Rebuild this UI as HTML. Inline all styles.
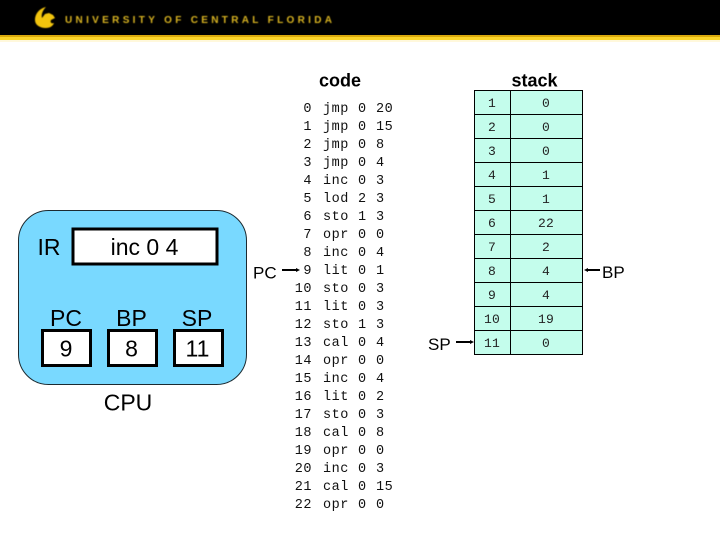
<!DOCTYPE html>
<html><head><meta charset="utf-8"><style>
html,body{margin:0;padding:0;background:#fff}
svg{display:block}
.a{font-family:"Liberation Sans",sans-serif;fill:#000}
.m{font-family:"Liberation Mono",monospace;font-size:13.5px;letter-spacing:.5px;fill:#111}
.s{font-family:"Liberation Mono",monospace;font-size:13px;letter-spacing:.2px;fill:#222;text-anchor:middle}
</style></head><body>
<svg width="720" height="540" viewBox="0 0 720 540" xmlns="http://www.w3.org/2000/svg">
<defs><filter id="b" x="-5%" y="-20%" width="110%" height="140%"><feGaussianBlur stdDeviation="0.45"/></filter></defs>
<rect width="720" height="36" fill="#000"/>
<rect y="35" width="720" height="2" fill="#d9a90c"/>
<rect y="37" width="720" height="3" fill="#fbd52a"/>
<rect y="40" width="720" height="2" fill="#fff8dc"/>
<g filter="url(#b)">
<path d="M46 7 C38 9 35 15 35 20 C35 25 40 28 46 28 C50 28 53 26 54 23 C51 24 50 22 51 20 L55 18 L53 15 L49 13 L45 14 L42 18 C41 14 43 10 46 7Z" fill="#f2c40f"/>
<text class="a" x="65" y="23" font-size="10" font-weight="bold" style="fill:#d9b424" textLength="267" lengthAdjust="spacing">UNIVERSITY OF CENTRAL FLORIDA</text>
</g>

<rect x="18.500" y="210.500" width="228" height="174" rx="30" fill="#79d9ff" stroke="#1c2a30" stroke-width="1"/>
<rect x="73" y="229" width="144" height="35" fill="#fff" stroke="#000" stroke-width="3"/>
<rect x="42.500" y="330.500" width="48" height="35" fill="#fff" stroke="#000" stroke-width="3"/>
<rect x="108.500" y="330.500" width="48" height="35" fill="#fff" stroke="#000" stroke-width="3"/>
<rect x="174.500" y="330.500" width="48" height="35" fill="#fff" stroke="#000" stroke-width="3"/>
<g class="a" font-size="23" text-anchor="middle">
<text x="49" y="255">IR</text>
<text x="144.500" y="255">inc 0 4</text>
<text x="66" y="326">PC</text>
<text x="131.500" y="326">BP</text>
<text x="197" y="326">SP</text>
<text x="66" y="356.500">9</text>
<text x="131.500" y="356.500">8</text>
<text x="197.500" y="356.500">11</text>
<text x="128" y="410.500">CPU</text>
</g>

<g class="a" font-size="17">
<text x="253" y="278.500">PC</text>
<text x="428" y="350">SP</text>
<text x="602" y="278">BP</text>
</g>
<g stroke="#000" stroke-width="2" fill="#000">
<line x1="282" y1="270" x2="298" y2="270"/><path d="M296 268l4 2-4 2z" stroke="none"/>
<line x1="456" y1="342" x2="472" y2="342"/><path d="M470 340l4 2-4 2z" stroke="none"/>
<line x1="586" y1="270" x2="600" y2="270"/><path d="M588 268l-4 2 4 2z" stroke="none"/>
</g>

<text class="a" x="340" y="86.500" font-size="18" font-weight="bold" text-anchor="middle">code</text>
<text class="a" x="534.500" y="86.500" font-size="18" font-weight="bold" text-anchor="middle">stack</text>

<g class="m">
<g text-anchor="end">
<text x="312" y="112">0</text><text x="312" y="130">1</text><text x="312" y="148">2</text><text x="312" y="166">3</text><text x="312" y="184">4</text><text x="312" y="202">5</text><text x="312" y="220">6</text><text x="312" y="238">7</text><text x="312" y="256">8</text><text x="312" y="274">9</text><text x="312" y="292">10</text><text x="312" y="310">11</text><text x="312" y="328">12</text><text x="312" y="346">13</text><text x="312" y="364">14</text><text x="312" y="382">15</text><text x="312" y="400">16</text><text x="312" y="418">17</text><text x="312" y="436">18</text><text x="312" y="454">19</text><text x="312" y="472">20</text><text x="312" y="490">21</text><text x="312" y="508">22</text>
</g>
<g>
<text x="323" y="112">jmp</text><text x="358" y="112">0</text><text x="376" y="112">20</text>
<text x="323" y="130">jmp</text><text x="358" y="130">0</text><text x="376" y="130">15</text>
<text x="323" y="148">jmp</text><text x="358" y="148">0</text><text x="376" y="148">8</text>
<text x="323" y="166">jmp</text><text x="358" y="166">0</text><text x="376" y="166">4</text>
<text x="323" y="184">inc</text><text x="358" y="184">0</text><text x="376" y="184">3</text>
<text x="323" y="202">lod</text><text x="358" y="202">2</text><text x="376" y="202">3</text>
<text x="323" y="220">sto</text><text x="358" y="220">1</text><text x="376" y="220">3</text>
<text x="323" y="238">opr</text><text x="358" y="238">0</text><text x="376" y="238">0</text>
<text x="323" y="256">inc</text><text x="358" y="256">0</text><text x="376" y="256">4</text>
<text x="323" y="274">lit</text><text x="358" y="274">0</text><text x="376" y="274">1</text>
<text x="323" y="292">sto</text><text x="358" y="292">0</text><text x="376" y="292">3</text>
<text x="323" y="310">lit</text><text x="358" y="310">0</text><text x="376" y="310">3</text>
<text x="323" y="328">sto</text><text x="358" y="328">1</text><text x="376" y="328">3</text>
<text x="323" y="346">cal</text><text x="358" y="346">0</text><text x="376" y="346">4</text>
<text x="323" y="364">opr</text><text x="358" y="364">0</text><text x="376" y="364">0</text>
<text x="323" y="382">inc</text><text x="358" y="382">0</text><text x="376" y="382">4</text>
<text x="323" y="400">lit</text><text x="358" y="400">0</text><text x="376" y="400">2</text>
<text x="323" y="418">sto</text><text x="358" y="418">0</text><text x="376" y="418">3</text>
<text x="323" y="436">cal</text><text x="358" y="436">0</text><text x="376" y="436">8</text>
<text x="323" y="454">opr</text><text x="358" y="454">0</text><text x="376" y="454">0</text>
<text x="323" y="472">inc</text><text x="358" y="472">0</text><text x="376" y="472">3</text>
<text x="323" y="490">cal</text><text x="358" y="490">0</text><text x="376" y="490">15</text>
<text x="323" y="508">opr</text><text x="358" y="508">0</text><text x="376" y="508">0</text>
</g>
</g>

<rect x="474.500" y="90.500" width="108" height="264" fill="#c4fdec" stroke="#000" stroke-width="1"/>
<g stroke="#000" stroke-width="1">
<line x1="510.500" y1="90" x2="510.500" y2="355"/>
<line x1="474" y1="114.500" x2="583" y2="114.500"/><line x1="474" y1="138.500" x2="583" y2="138.500"/><line x1="474" y1="162.500" x2="583" y2="162.500"/><line x1="474" y1="186.500" x2="583" y2="186.500"/><line x1="474" y1="210.500" x2="583" y2="210.500"/><line x1="474" y1="234.500" x2="583" y2="234.500"/><line x1="474" y1="258.500" x2="583" y2="258.500"/><line x1="474" y1="282.500" x2="583" y2="282.500"/><line x1="474" y1="306.500" x2="583" y2="306.500"/><line x1="474" y1="330.500" x2="583" y2="330.500"/>
</g>
<g class="s">
<text x="492" y="107">1</text><text x="546" y="107">0</text>
<text x="492" y="131">2</text><text x="546" y="131">0</text>
<text x="492" y="155">3</text><text x="546" y="155">0</text>
<text x="492" y="179">4</text><text x="546" y="179">1</text>
<text x="492" y="203">5</text><text x="546" y="203">1</text>
<text x="492" y="227">6</text><text x="546" y="227">22</text>
<text x="492" y="251">7</text><text x="546" y="251">2</text>
<text x="492" y="275">8</text><text x="546" y="275">4</text>
<text x="492" y="299">9</text><text x="546" y="299">4</text>
<text x="492" y="323">10</text><text x="546" y="323">19</text>
<text x="492" y="347">11</text><text x="546" y="347">0</text>
</g>
</svg>
</body></html>
